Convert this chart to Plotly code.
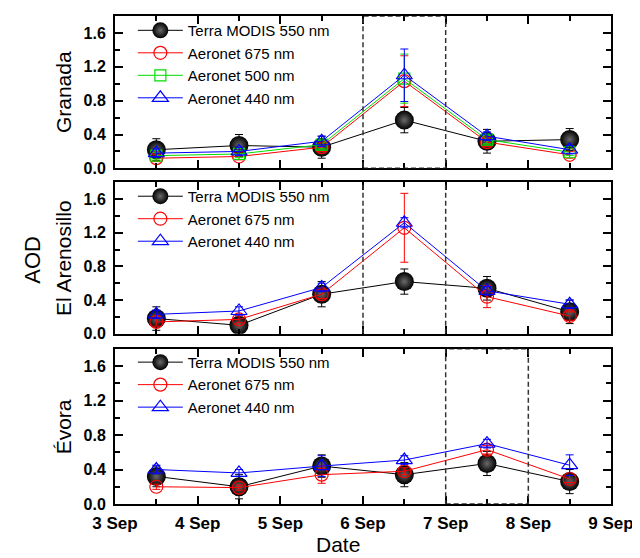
import plotly.graph_objects as go

# ---- data ----
days = [3.5, 4.5, 5.5, 6.5, 7.5, 8.5]
x_tick_vals = [3, 4, 5, 6, 7, 8, 9]
x_tick_text = ["3 Sep", "4 Sep", "5 Sep", "6 Sep", "7 Sep", "8 Sep", "9 Sep"]
y_tick_vals = [0.0, 0.4, 0.8, 1.2, 1.6]

gr_modis = [0.22, 0.27, 0.25, 0.57, 0.32, 0.34]
gr_modis_err = [0.13, 0.13, 0.13, 0.15, 0.14, 0.13]
gr_675 = [0.12, 0.14, 0.25, 1.03, 0.31, 0.16]
gr_675_err = [0.04, 0.04, 0.05, 0.30, 0.05, 0.04]
gr_500 = [0.15, 0.17, 0.28, 1.06, 0.34, 0.19]
gr_500_err = [0.04, 0.04, 0.05, 0.29, 0.05, 0.04]
gr_440 = [0.18, 0.20, 0.32, 1.10, 0.38, 0.22]
gr_440_err = [0.05, 0.05, 0.06, 0.31, 0.05, 0.05]

ea_modis = [0.18, 0.10, 0.47, 0.62, 0.54, 0.26]
ea_modis_err = [0.14, 0.05, 0.15, 0.15, 0.14, 0.14]
ea_675 = [0.14, 0.17, 0.47, 1.26, 0.44, 0.21]
ea_675_err = [0.05, 0.04, 0.05, 0.41, 0.13, 0.05]
ea_440 = [0.23, 0.27, 0.55, 1.32, 0.51, 0.35]
ea_440_err = [0.05, 0.05, 0.05, 0.06, 0.05, 0.05]

ev_modis = [0.32, 0.20, 0.44, 0.34, 0.47, 0.26]
ev_modis_err = [0.12, 0.14, 0.13, 0.14, 0.14, 0.14]
ev_675 = [0.20, 0.19, 0.34, 0.38, 0.63, 0.29]
ev_675_err = [0.03, 0.03, 0.10, 0.04, 0.05, 0.04]
ev_440 = [0.40, 0.36, 0.44, 0.51, 0.70, 0.45]
ev_440_err = [0.05, 0.04, 0.12, 0.05, 0.05, 0.12]

panel_names = ["Granada", "El Arenosillo", "Évora"]

# ---- styles ----
FONT = "Liberation Sans, Arial, sans-serif"
styles = {
    "Terra MODIS 550 nm": dict(color="black", marker=dict(symbol="circle", size=19, color="black",
                                gradient=dict(type="radial", color="#6a6a6a"), line=dict(width=0))),
    "Aeronet 675 nm": dict(color="#ff0000", marker=dict(symbol="circle-open", size=13, color="#ff0000", line=dict(width=1.2))),
    "Aeronet 500 nm": dict(color="#00dd00", marker=dict(symbol="square-open", size=11, color="#00dd00", line=dict(width=1.2))),
    "Aeronet 440 nm": dict(color="#0000ff", marker=dict(symbol="triangle-up-open", size=14, color="#0000ff", line=dict(width=1.2))),
}

panels = [
    [("Terra MODIS 550 nm", gr_modis, gr_modis_err), ("Aeronet 675 nm", gr_675, gr_675_err),
     ("Aeronet 500 nm", gr_500, gr_500_err), ("Aeronet 440 nm", gr_440, gr_440_err)],
    [("Terra MODIS 550 nm", ea_modis, ea_modis_err), ("Aeronet 675 nm", ea_675, ea_675_err),
     ("Aeronet 440 nm", ea_440, ea_440_err)],
    [("Terra MODIS 550 nm", ev_modis, ev_modis_err), ("Aeronet 675 nm", ev_675, ev_675_err),
     ("Aeronet 440 nm", ev_440, ev_440_err)],
]

fig = go.Figure()
for i, series in enumerate(panels):
    sfx = "" if i == 0 else str(i + 1)
    for name, vals, errs in series:
        st = styles[name]
        fig.add_trace(go.Scatter(
            x=days, y=vals, name=name, mode="lines+markers",
            line=dict(color=st["color"], width=1),
            marker=st["marker"],
            error_y=dict(type="data", array=errs, visible=True, color=st["color"], thickness=1, width=4),
            xaxis="x" + sfx, yaxis="y" + sfx,
            legend="legend" + sfx,
        ))

domains = [[0.6878, 1.0], [0.349, 0.659], [0.0, 0.318]]

def xax(show_labels, anchor):
    return dict(range=[3, 9], anchor=anchor, domain=[0, 1],
                tickmode="array", tickvals=x_tick_vals, ticktext=x_tick_text,
                showticklabels=show_labels, ticklabeloverflow="allow",
                tickfont=dict(family=FONT, size=17, color="black", weight="bold"),
                showline=True, linewidth=2, linecolor="black", mirror="allticks",
                ticks="inside", ticklen=8, tickwidth=1.5, tickcolor="black",
                minor=dict(dtick=0.5, tick0=3, ticks="inside", ticklen=5, tickwidth=1.5, tickcolor="black"),
                showgrid=False, zeroline=False, ticklabelstandoff=3)

def yax(domain, anchor):
    return dict(range=[0, 1.8], domain=domain, anchor=anchor,
                tickmode="array", tickvals=y_tick_vals, ticktext=[f"{v:.1f}" for v in y_tick_vals],
                tickfont=dict(family=FONT, size=16, color="black", weight="bold"),
                showline=True, linewidth=2, linecolor="black", mirror="allticks",
                ticks="inside", ticklen=8, tickwidth=1.5, tickcolor="black",
                minor=dict(dtick=0.2, tick0=0, ticks="inside", ticklen=5, tickwidth=1.5, tickcolor="black"),
                showgrid=False, zeroline=False, ticklabelstandoff=4)

legend_common = dict(font=dict(family=FONT, size=15, color="black"), bgcolor="rgba(0,0,0,0)",
                     xanchor="left", yanchor="top", itemwidth=45, tracegroupgap=0)

# the page body adds an 8px offset; the figure is sized to compensate
fig.update_layout(
    width=632, height=550,
    margin=dict(l=107, r=21, t=6, b=54),
    paper_bgcolor="white", plot_bgcolor="white",
    showlegend=True,
    xaxis=xax(False, "y"), yaxis=yax(domains[0], "x"),
    xaxis2=xax(False, "y2"), yaxis2=yax(domains[1], "x2"),
    xaxis3=xax(True, "y3"), yaxis3=yax(domains[2], "x3"),
    legend=dict(x=0.036, y=1.004, **legend_common),
    legend2=dict(x=0.036, y=0.664, **legend_common),
    legend3=dict(x=0.036, y=0.324, **legend_common),
)

# dashed markers of the dust-event days
dash = dict(color="#333333", width=1.5, dash="5px,3px")
fig.add_shape(type="rect", xref="x", yref="y", x0=6, x1=7, y0=0, y1=1.8, line=dash)
fig.add_shape(type="line", xref="x2", yref="y2", x0=6, x1=6, y0=0, y1=1.8, line=dash)
fig.add_shape(type="line", xref="x2", yref="y2", x0=7, x1=7, y0=0, y1=1.8, line=dash)
fig.add_shape(type="rect", xref="x3", yref="y3", x0=7, x1=8, y0=0, y1=1.8, line=dash)

# titles
for name, dom in zip(panel_names, domains):
    fig.add_annotation(text=name, xref="paper", yref="paper", x=-0.105, y=(dom[0] + dom[1]) / 2,
                       textangle=-90, showarrow=False, xanchor="center", yanchor="middle",
                       font=dict(family=FONT, size=21, color="black"))
fig.add_annotation(text="AOD", xref="paper", yref="paper", x=-0.168, y=0.5,
                   textangle=-90, showarrow=False, xanchor="center", yanchor="middle",
                   font=dict(family=FONT, size=22, color="black"))
fig.add_annotation(text="Date", xref="paper", yref="paper", x=0.45, y=-0.084,
                   showarrow=False, xanchor="center", yanchor="middle",
                   font=dict(family=FONT, size=21, color="black"))

fig.write_html("out.html")
